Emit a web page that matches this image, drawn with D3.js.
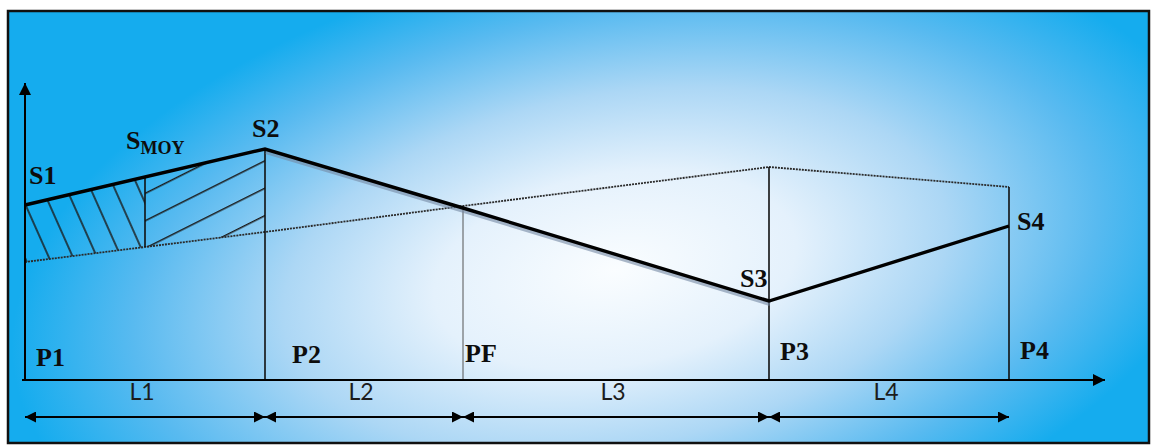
<!DOCTYPE html>
<html>
<head>
<meta charset="utf-8">
<script src="https://cdn.jsdelivr.net/npm/d3@7"></script>
<style>
  html, body { margin: 0; padding: 0; background: #fff; }
  svg { display: block; }
  .label { font-family: "Liberation Serif", "DejaVu Serif", serif; font-weight: bold; font-size: 26px; fill: #0d0d0d; }
  .len { font-family: Lato, "Liberation Sans", sans-serif; font-size: 23px; fill: #1c1c1c; }
</style>
</head>
<body>
<svg id="chart" width="1152" height="446"></svg>
<script>
// Stations along the pipe and cumulative distance
const stations = ["P1", "P2", "PF", "P3", "P4"];
const distances = [0, 240, 438, 744, 984];
const lengthLabels = ["L1", "L2", "L3", "L4"];

// Bold line (heads S1..S4), one value per station
const heads = [175, 231, 172, 79, 154];
const headLabels = ["S1", "S2", "", "S3", "S4"];

// Dotted line, one value per station
const dotted = [118, 148, 174, 213, 193];

// Mean section SMOY
const smoyDistance = 120;
const smoyTop = 203;
const smoyBottom = 133;

const svg = d3.select("#chart");

const x = d3.scaleLinear().domain([0, 1080]).range([25, 1105]);
const y = d3.scaleLinear().domain([0, 297]).range([380, 83]);

const defs = svg.append("defs");

// Background gradient
const grad = defs.append("radialGradient")
    .attr("id", "bg")
    .attr("gradientUnits", "userSpaceOnUse")
    .attr("cx", 0).attr("cy", 0).attr("r", 1)
    .attr("gradientTransform", "translate(615,270) rotate(-10) scale(610,320)");
[[0, "#fafdff"], [0.3, "#e4f1fc"], [0.55, "#acd7f5"], [0.8, "#58baf0"], [1, "#15acee"]]
    .forEach(([o, c]) => grad.append("stop").attr("offset", o).attr("stop-color", c));

// Arrow heads
function marker(id, w, h) {
    defs.append("marker")
        .attr("id", id)
        .attr("markerUnits", "userSpaceOnUse")
        .attr("viewBox", "0 0 10 10")
        .attr("refX", 10).attr("refY", 5)
        .attr("markerWidth", w).attr("markerHeight", h)
        .attr("orient", "auto-start-reverse")
        .append("path")
        .attr("d", "M0,0L10,5L0,10Z")
        .attr("fill", "#000");
}
marker("arrow", 14, 12);
marker("dim", 15, 11);

// Hatch patterns
function hatch(id, spacing, angle, offset) {
    defs.append("pattern")
        .attr("id", id)
        .attr("patternUnits", "userSpaceOnUse")
        .attr("width", spacing).attr("height", 40)
        .attr("patternTransform", `rotate(${angle})`)
        .append("line")
        .attr("x1", offset).attr("x2", offset)
        .attr("y1", -1).attr("y2", 41)
        .attr("stroke", "#1a1a1a")
        .attr("stroke-width", 1.5);
}
hatch("hatchL", 22, -24, 6);
hatch("hatchR", 24.5, 63.4, 17.4);

// Frame
svg.append("rect")
    .attr("x", 8).attr("y", 11)
    .attr("width", 1141).attr("height", 432)
    .attr("fill", "url(#bg)")
    .attr("stroke", "#111")
    .attr("stroke-width", 2.5);

// Hatched areas between bold and dotted line, split at SMOY
const area = d3.area().x(d => x(d[0])).y0(d => y(d[2])).y1(d => y(d[1]));
svg.append("path")
    .attr("d", area([[distances[0], heads[0], dotted[0]], [smoyDistance, smoyTop, smoyBottom]]))
    .attr("fill", "url(#hatchL)");
svg.append("path")
    .attr("d", area([[smoyDistance, smoyTop, smoyBottom], [distances[1], heads[1], dotted[1]]]))
    .attr("fill", "url(#hatchR)");

const line = d3.line().x(d => x(d[0])).y(d => y(d[1]));

// Dotted line
svg.append("path")
    .attr("d", line(distances.map((d, i) => [d, dotted[i]])))
    .attr("fill", "none")
    .attr("stroke", "#2a2a2a")
    .attr("stroke-width", 1.8)
    .attr("stroke-dasharray", "2 1");

// Verticals at stations
svg.selectAll("line.station")
    .data(distances.slice(1))
    .enter().append("line")
    .attr("class", "station")
    .attr("x1", d => x(d)).attr("x2", d => x(d))
    .attr("y1", (d, i) => y(Math.max(heads[i + 1], dotted[i + 1])))
    .attr("y2", y(0))
    .attr("stroke", (d, i) => i === 1 ? "#555" : "#111")
    .attr("stroke-width", (d, i) => i === 1 ? 1 : 1.6);

// SMOY vertical
svg.append("line")
    .attr("x1", x(smoyDistance)).attr("x2", x(smoyDistance))
    .attr("y1", y(smoyTop)).attr("y2", y(smoyBottom))
    .attr("stroke", "#111")
    .attr("stroke-width", 1.6);

// Shadow of the descending part
svg.append("path")
    .attr("d", line(distances.slice(1, 4).map((d, i) => [d, heads[i + 1]])))
    .attr("transform", "translate(1,3)")
    .attr("fill", "none")
    .attr("stroke", "#7589a3")
    .attr("stroke-opacity", 0.6)
    .attr("stroke-width", 4);

// Bold line
svg.append("path")
    .attr("d", line(distances.map((d, i) => [d, heads[i]])))
    .attr("fill", "none")
    .attr("stroke", "#000")
    .attr("stroke-width", 3.4)
    .attr("stroke-linejoin", "miter");

// Axes
svg.append("line")
    .attr("x1", x.range()[0] - 3).attr("x2", x.range()[1])
    .attr("y1", y(0)).attr("y2", y(0))
    .attr("stroke", "#000").attr("stroke-width", 2)
    .attr("marker-end", "url(#arrow)");
svg.append("line")
    .attr("x1", x(0)).attr("x2", x(0))
    .attr("y1", y(0)).attr("y2", y.range()[1])
    .attr("stroke", "#000").attr("stroke-width", 2)
    .attr("marker-end", "url(#arrow)");

// Length dimension arrows
const dimY = 417;
svg.selectAll("line.dim")
    .data(lengthLabels)
    .enter().append("line")
    .attr("class", "dim")
    .attr("x1", (d, i) => x(distances[i])).attr("x2", (d, i) => x(distances[i + 1]))
    .attr("y1", dimY).attr("y2", dimY)
    .attr("stroke", "#000").attr("stroke-width", 2)
    .attr("marker-start", "url(#dim)")
    .attr("marker-end", "url(#dim)");

svg.selectAll("text.len")
    .data(lengthLabels)
    .enter().append("text")
    .attr("class", "len")
    .attr("x", (d, i) => (x(distances[i]) + x(distances[i + 1])) / 2 - 3)
    .attr("y", 400)
    .attr("text-anchor", "middle")
    .text(d => d);

// Station labels
const stationOffsets = [[11, 366], [27, 363], [2, 362], [11, 360], [11, 359]];
svg.selectAll("text.station")
    .data(stations)
    .enter().append("text")
    .attr("class", "label")
    .attr("x", (d, i) => x(distances[i]) + stationOffsets[i][0])
    .attr("y", (d, i) => stationOffsets[i][1])
    .text(d => d);

// Head labels
const headOffsets = [[4, -21], [-13, -12], [0, 0], [-29, -14], [8, 4]];
headLabels.forEach((d, i) => {
    if (!d) return;
    svg.append("text")
        .attr("class", "label")
        .attr("x", x(distances[i]) + headOffsets[i][0])
        .attr("y", y(heads[i]) + headOffsets[i][1])
        .text(d);
});

// SMOY label
const smoyText = svg.append("text")
    .attr("class", "label")
    .attr("x", x(smoyDistance) - 19)
    .attr("y", y(smoyTop) - 28);
smoyText.append("tspan").text("S");
smoyText.append("tspan").attr("dy", 5).style("font-size", "18px").text("MOY");
</script>
</body>
</html>
